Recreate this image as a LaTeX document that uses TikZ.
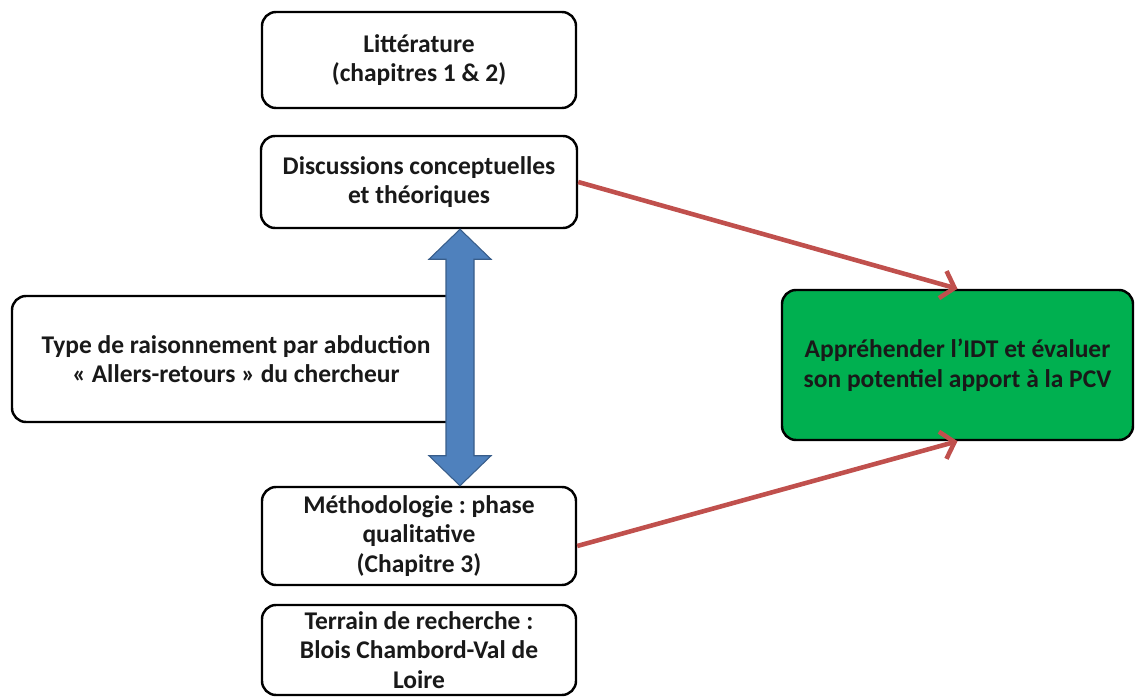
\documentclass[tikz,border=0pt]{standalone}
\usepackage{fontspec}
\setmainfont{Carlito}
\usepackage{tikz}
\usetikzlibrary{arrows.meta,calc}

\definecolor{boxgreen}{RGB}{0,176,80}
\definecolor{arrowblue}{RGB}{79,129,189}
\definecolor{arrowblueedge}{RGB}{56,93,138}
\definecolor{arrowred}{RGB}{192,80,77}

\frenchspacing
\begin{document}
\begin{tikzpicture}
    \tikzstyle{every node} = [font=\fontsize{14.5}{16.8}\selectfont\bfseries, text=black!90]
    \tikzstyle{block} = [draw, line width=1.4pt, rectangle, fill=white, rounded corners=8pt, align=center, inner sep=2pt]
    \tikzstyle{link} = [draw=arrowred, line width=2.6pt, -{Straight Barb[length=7pt,width=16pt,line width=2.6pt]}]
    \useasboundingbox (0,0) rectangle (22.74,-13.98);
    % place nodes
    \node[block, minimum width=6.28cm, minimum height=1.92cm](lit) at (8.38,-1.2){Littérature\\(chapitres 1 \& 2)};
    \node[block, below of=lit, node distance=2.44cm, minimum width=6.32cm, minimum height=1.84cm](disc){Discussions conceptuelles\\et théoriques};
    \node[block, below of=disc, node distance=7.08cm, minimum width=6.28cm, minimum height=1.96cm](meth){Méthodologie : phase\\qualitative\\(Chapitre 3)};
    \node[block, below of=meth, node distance=2.28cm, minimum width=6.28cm, minimum height=1.8cm](terr){Terrain de recherche :\\Blois Chambord-Val de\\Loire};
    \node[block, minimum width=8.96cm, minimum height=2.52cm](type) at (4.72,-7.18){Type de raisonnement par abduction\\« Allers-retours » du chercheur};
    \node[block, fill=boxgreen, minimum width=7.02cm, minimum height=3cm](goal) at (19.15,-7.3){Appréhender l’IDT et évaluer\\son potentiel apport à la PCV};

    % Connections
    \coordinate (top) at ($(disc.south)+(0.82,0)$);
    \coordinate (bot) at ($(meth.north)+(0.82,0)$);
    \filldraw[fill=arrowblue, draw=arrowblueedge, line width=0.6pt]
    (top) -- ++(0.62,-0.6) -- ++(-0.34,0) |- ($(bot)+(0.28,0.6)$) -- ++(0.34,0) -- (bot)
    -- ++(-0.62,0.6) -- ++(0.34,0) |- ($(top)+(-0.28,-0.6)$) -- ++(-0.34,0) -- cycle;
    \draw[link] (disc.east) -- (goal.north);
    \draw[link] ([yshift=-0.2cm]meth.east) -- (goal.south);
\end{tikzpicture}
\end{document}
